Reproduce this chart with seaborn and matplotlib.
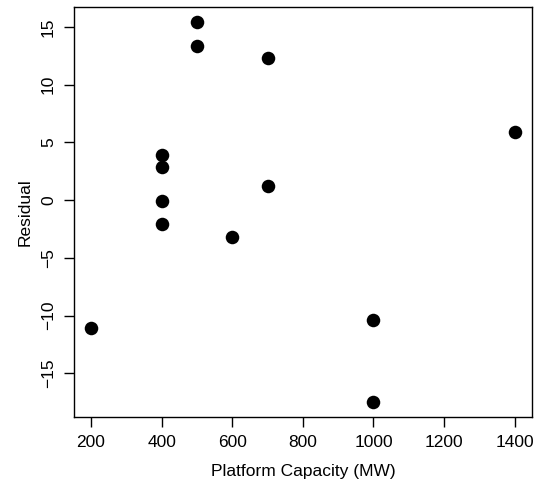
import matplotlib
matplotlib.use("Agg")
import matplotlib.pyplot as plt
import seaborn as sns
import pandas as pd

capacity = [200, 400, 400, 400, 400, 500, 500, 600, 700, 700, 1000, 1000, 1400]
residual = [-11.1, 3.9, 2.9, -0.1, -2.1, 15.4, 13.4, -3.2, 12.3, 1.2, -10.4, -17.45, 5.95]
x_ticks = [200, 400, 600, 800, 1000, 1200, 1400]
y_ticks = [-15, -10, -5, 0, 5, 10, 15]

df = pd.DataFrame({"Platform Capacity (MW)": capacity, "Residual": residual})

sns.set_style("ticks")
plt.rcParams['font.family'] = ['Liberation Sans', 'DejaVu Sans']
plt.rcParams['text.color'] = 'black'
plt.rcParams['axes.labelcolor'] = 'black'
plt.rcParams['xtick.color'] = 'black'
plt.rcParams['ytick.color'] = 'black'

fig = plt.figure(figsize=(5.37, 4.9), dpi=100)
ax = fig.add_axes([74/537, 1 - 416.7/490, (531.7 - 74)/537, (416.7 - 7.3)/490])

sns.scatterplot(data=df, x="Platform Capacity (MW)", y="Residual", ax=ax,
                color="black", s=95, linewidth=0, zorder=3)

xr = max(capacity) - min(capacity)
yr = max(residual) - min(residual)
ax.set_xlim(min(capacity) - 0.04 * xr, max(capacity) + 0.04 * xr)
ax.set_ylim(min(residual) - 0.04 * yr, max(residual) + 0.04 * yr)
ax.set_xticks(x_ticks)
ax.set_yticks(y_ticks)
ax.set_yticklabels([str(v).replace('-', '\u2212') for v in y_ticks], rotation=90, va='center')
ax.set_xticklabels([str(v) for v in x_ticks])

for sp in ax.spines.values():
    sp.set_visible(True)
    sp.set_color('black')
    sp.set_linewidth(1.0)
ax.tick_params(axis='both', direction='out', length=7, width=1.0, colors='black',
               labelcolor='black', labelsize=12.5, pad=6)
ax.set_xlabel("Platform Capacity (MW)", fontsize=12.5, labelpad=10, color='black')
ax.set_ylabel("Residual", fontsize=12.5, labelpad=6, color='black')
ax.grid(False)

fig.savefig("out.png", dpi=100)
